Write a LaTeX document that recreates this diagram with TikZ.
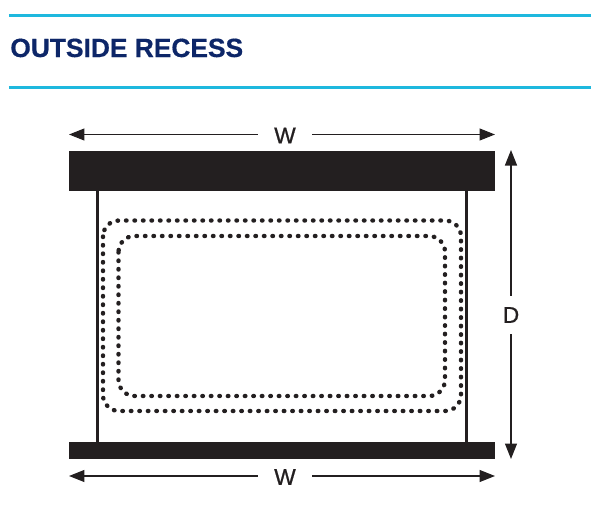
\documentclass[tikz,border=0pt]{standalone}
\usepackage{fontspec}
\setmainfont{Liberation Sans}
\usetikzlibrary{arrows.meta}
\definecolor{rulecol}{RGB}{30,184,222}
\definecolor{titlecol}{RGB}{13,38,104}
\definecolor{barcol}{RGB}{35,31,32}
\tikzset{
    rulebar/.style={draw=rulecol, line width=0.06cm},
    bar/.style={fill=barcol, draw=barcol, line width=0.2pt, inner sep=0pt, minimum width=8.5cm},
    post/.style={draw=barcol, line width=0.07cm},
    dots/.style={draw=barcol, line width=0.088cm, line cap=round, dash pattern=on 0.3pt off 0.17cm-0.3pt, rounded corners=0.32cm},
    dim/.style={draw=barcol, line width=0.7pt, -{Triangle[length=0.31cm, width=0.24cm]}},
    dimlabel/.style={text=barcol, font=\fontsize{13}{15}\selectfont\addfontfeatures{FakeBold=0.8}, inner sep=0pt, minimum width=1.08cm, minimum height=0.76cm}
}
\begin{document}
\begin{tikzpicture}[x=0.02cm, y=-0.02cm]

    \def\Xl{69};
    \def\Xr{495};
    \def\Xm{282};
    \def\Xa{97.5};
    \def\Xb{466.5};
    \def\Xd{511};

    \useasboundingbox (0, 0) rectangle (600, 508);

    % header
    \coordinate (ruleAl) at (9, 15);
    \coordinate (ruleAr) at (591, 15);
    \coordinate (ruleBl) at (9, 87);
    \coordinate (ruleBr) at (591, 87);
    \draw[rulebar] (ruleAl) -- (ruleAr);
    \draw[rulebar] (ruleBl) -- (ruleBr);
    \node[anchor=base west, inner sep=0pt, text=titlecol, font=\fontsize{15}{18}\selectfont\bfseries\addfontfeatures{FakeBold=0.5}] (title) at (10, 57) {OUTSIDE RECESS};

    % bars
    \node[bar, minimum height=0.78cm] (topbar) at (\Xm, 170.5) {};
    \node[bar, minimum height=0.32cm] (botbar) at (\Xm, 450) {};

    % posts
    \draw[post] (topbar.south -| \Xa, 0) -- (botbar.north -| \Xa, 0);
    \draw[post] (topbar.south -| \Xb, 0) -- (botbar.north -| \Xb, 0);

    % dots
    \draw[dots] (103, 220.5) rectangle (461, 411);
    \draw[dots] (118.5, 236) rectangle (445, 396);

    % labels
    \node[dimlabel] (wtop) at (285, 135.5) {W};
    \node[dimlabel] (wbot) at (285, 477) {W};
    \node[dimlabel] (dside) at (\Xd, 315) {D};

    % arrows
    \coordinate (wtopl) at (\Xl, 134.5);
    \coordinate (wtopr) at (\Xr, 134.5);
    \coordinate (wbotl) at (\Xl, 476);
    \coordinate (wbotr) at (\Xr, 476);
    \coordinate (dup) at (\Xd, 150);
    \coordinate (ddown) at (\Xd, 459);
    \draw[dim] (wtop.west |- wtopl) -- (wtopl);
    \draw[dim] (wtop.east |- wtopr) -- (wtopr);
    \draw[dim] (wbot.west |- wbotl) -- (wbotl);
    \draw[dim] (wbot.east |- wbotr) -- (wbotr);
    \draw[dim] (dside.north) -- (dup);
    \draw[dim] (dside.south) -- (ddown);
\end{tikzpicture}
\end{document}
